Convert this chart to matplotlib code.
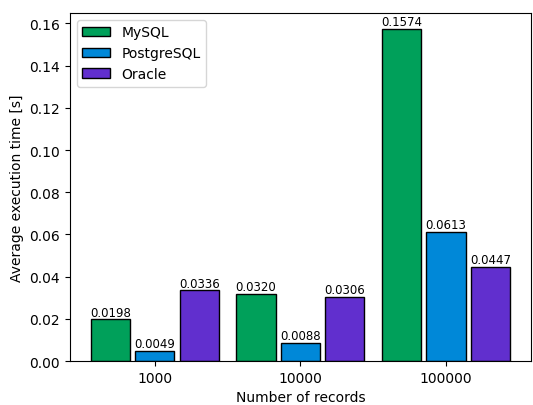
import matplotlib
matplotlib.use("Agg")
import matplotlib.pyplot as plt
import numpy as np

categories = ["1000", "10000", "100000"]
mysql = [0.0198, 0.0320, 0.1574]
postgres = [0.0049, 0.0088, 0.0613]
oracle = [0.0336, 0.0306, 0.0447]
series_names = ["MySQL", "PostgreSQL", "Oracle"]
colors = ["#00a05a", "#0088d8", "#612fce"]

fig, ax = plt.subplots(figsize=(5.33, 4.06), dpi=100)
x = np.arange(len(categories))
width = 0.27
offset = 0.305
for i, (vals, name, c) in enumerate(zip([mysql, postgres, oracle], series_names, colors)):
    bars = ax.bar(x + (i - 1) * offset, vals, width, color=c, edgecolor="black", linewidth=1, label=name)
    ax.bar_label(bars, labels=[f"{v:.4f}" for v in vals], fontsize=8.5, padding=0.5)

ax.set_xticks(x)
ax.set_xticklabels(categories)
ax.set_xlabel("Number of records")
ax.set_ylabel("Average execution time [s]")
ax.set_ylim(0, 0.165)
ax.legend(loc="upper left")
fig.subplots_adjust(left=0.131, right=0.996, top=0.966, bottom=0.108)
fig.savefig("out.png", dpi=100)
